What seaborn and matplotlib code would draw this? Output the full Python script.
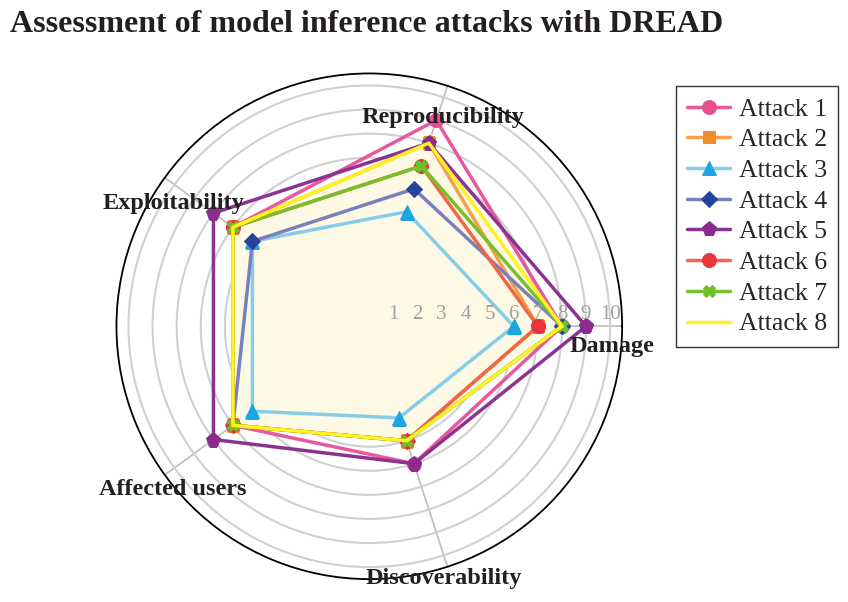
import numpy as np
import seaborn as sns
import matplotlib.pyplot as plt

# dados do gráfico
categorias = ['Damage', 'Reproducibility', 'Exploitability', 'Affected users', 'Discoverability']
ataques = ['Attack 1', 'Attack 2', 'Attack 3', 'Attack 4', 'Attack 5', 'Attack 6', 'Attack 7', 'Attack 8']
attack_1 = [8, 9, 7, 7, 6]
attack_2 = [7, 8, 7, 7, 5]
attack_3 = [6, 5, 6, 6, 4]
attack_4 = [8, 6, 6, 7, 5]
attack_5 = [9, 8, 8, 8, 6]
attack_6 = [7, 7, 7, 7, 5]
attack_7 = [8, 7, 7, 7, 5]
attack_8 = [8, 8, 7, 7, 5]
valores = [attack_1, attack_2, attack_3, attack_4, attack_5, attack_6, attack_7, attack_8]
niveis = list(range(1, 11))

# estilo de cada série
cor_linha = ['#e8589c', '#f5a04a', '#86cde9', '#7a80bd', '#8b3390', '#ef6748', '#78bf2c', '#fff21f']
cor_marca = ['#e84d93', '#f08c2d', '#1ba6e1', '#26449b', '#8a2b8d', '#e8343a', '#6fbf2a', '#fff21f']
marcadores = ['o', 's', '^', 'D', 'p', 'o', 'X', None]
tamanhos = [10, 9, 10, 8.5, 11, 10, 8.5, 0]

sns.set_style('white')
plt.rcParams['font.family'] = ['Liberation Serif', 'DejaVu Serif']

fig = plt.figure(figsize=(8.48, 6.02), dpi=100)
ax = fig.add_axes([0.137, 0.038, 0.597, 0.840], projection='polar')

angulos = np.linspace(0, 2 * np.pi, len(categorias), endpoint=False)
ang_fechado = np.append(angulos, angulos[0])

# preenchimento claro do Attack 8
ax.fill(ang_fechado, attack_8 + attack_8[:1], color='#fdf9e4', zorder=1)

for i, nome in enumerate(ataques):
    v = valores[i] + valores[i][:1]
    sns.lineplot(x=ang_fechado, y=v, ax=ax, sort=False, estimator=None,
                 color=cor_linha[i], linewidth=2.5, marker=marcadores[i],
                 markersize=tamanhos[i],
                 markerfacecolor=cor_marca[i], markeredgecolor=cor_marca[i],
                 label=nome, zorder=3 + i)

ax.set_ylim(0, 10.5)
ax.set_yticks(niveis)
ax.set_yticklabels([])
ax.set_xticks(angulos)
ax.set_xticklabels([])
ax.yaxis.grid(True, color='#d0d0d0', linewidth=1.5)
ax.xaxis.grid(True, color='#bdbdbd', linewidth=1.2)
ax.spines['polar'].set_color('black')
ax.spines['polar'].set_linewidth(1.3)
ax.set_xlabel('')
ax.set_ylabel('')
if ax.get_legend() is not None:
    ax.get_legend().remove()

# números do eixo radial
for n in niveis:
    ax.annotate(str(n), xy=(0, n), xytext=(0, 2), textcoords='offset points',
                ha='center', va='bottom', fontsize=15, color='#a0a0a0', zorder=20)

# rótulos das categorias (posição em ângulo/raio)
pos_rotulos = [(-4.7, 10.1), (70.6, 9.2), (148.0, 9.6), (219.8, 10.6), (286.4, 10.9)]
for nome, (ang, r) in zip(categorias, pos_rotulos):
    ax.text(np.deg2rad(ang), r, nome, ha='center', va='center', fontsize=17.5,
            fontweight='bold', color='#231f20', zorder=25)

fig.text(0.012, 0.96, 'Assessment of model inference attacks with DREAD',
         ha='left', va='center', fontsize=23, fontweight='bold', color='#231f20')

handles, labels = ax.get_legend_handles_labels()
leg = fig.legend(handles, labels, loc='upper left', bbox_to_anchor=(0.797, 0.857),
                 borderaxespad=0, frameon=True, fancybox=False, edgecolor='black',
                 fontsize=18.5, handlelength=1.65, labelspacing=0.3, borderpad=0.45,
                 handletextpad=0.35)
leg.get_frame().set_linewidth(1.0)

plt.savefig('out.png', dpi=100)
